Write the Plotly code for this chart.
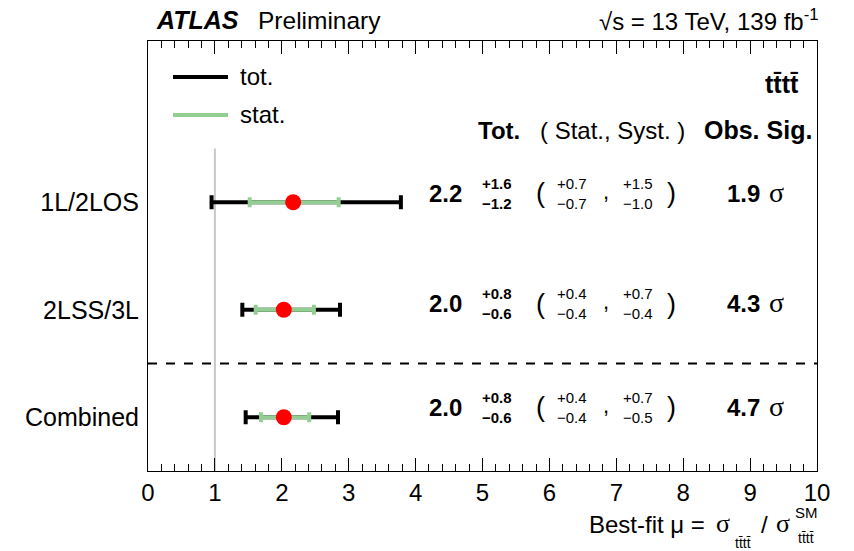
import plotly.graph_objects as go

# ---------------- data ----------------
channels = ["1L/2LOS", "2LSS/3L", "Combined"]
y_pos = [2.5, 1.5, 0.5]
mu = [2.17, 2.03, 2.03]
tot_up = [1.61, 0.84, 0.81]
tot_dn = [1.22, 0.62, 0.57]
stat_up = [0.68, 0.45, 0.38]
stat_dn = [0.65, 0.42, 0.34]

mu_txt = ["2.2", "2.0", "2.0"]
tot_up_txt = ["+1.6", "+0.8", "+0.8"]
tot_dn_txt = ["\u22121.2", "\u22120.6", "\u22120.6"]
stat_up_txt = ["+0.7", "+0.4", "+0.4"]
stat_dn_txt = ["\u22120.7", "\u22120.4", "\u22120.4"]
syst_up_txt = ["+1.5", "+0.7", "+0.7"]
syst_dn_txt = ["\u22121.0", "\u22120.4", "\u22120.5"]
sig_txt = ["1.9", "4.3", "4.7"]

x_ticks = list(range(0, 11))

FONT = "Liberation Sans, Arial, Helvetica, sans-serif"
SERIF = "Liberation Serif, Times New Roman, serif"
GREEN = "#93cf93"
TTTT = "t" + "t\u0304" + "t" + "t\u0304"

W, H = 854, 551
L, R, T, B = 148, 37, 41, 80
PW, PH = W - L - R, H - T - B


def px2x(px):
    return (px - L) / PW


def px2y(py):
    return (H - B - py) / PH


fig = go.Figure()

# total uncertainty
fig.add_trace(go.Scatter(
    x=mu, y=y_pos, mode="markers",
    marker=dict(size=1, color="rgba(0,0,0,0)"),
    error_x=dict(type="data", symmetric=False, array=tot_up, arrayminus=tot_dn,
                 color="black", thickness=4, width=7),
    showlegend=False, hoverinfo="skip"))
# stat uncertainty
fig.add_trace(go.Scatter(
    x=mu, y=y_pos, mode="markers",
    marker=dict(size=1, color="rgba(0,0,0,0)"),
    error_x=dict(type="data", symmetric=False, array=stat_up, arrayminus=stat_dn,
                 color=GREEN, thickness=4, width=5),
    showlegend=False, hoverinfo="skip"))
# central value
fig.add_trace(go.Scatter(
    x=mu, y=y_pos, mode="markers",
    marker=dict(size=16, color="red"),
    showlegend=False))

shapes = [
    # SM reference line
    dict(type="line", xref="x", yref="y", x0=1, x1=1, y0=0, y1=3,
         line=dict(color="#c8c8c8", width=2), layer="below"),
    # separator
    dict(type="line", xref="paper", yref="y", x0=0, x1=1, y0=1, y1=1,
         line=dict(color="black", width=2, dash="dash")),
    # legend lines
    dict(type="line", xref="paper", yref="paper", x0=px2x(173), x1=px2x(228),
         y0=px2y(77), y1=px2y(77), line=dict(color="black", width=4)),
    dict(type="line", xref="paper", yref="paper", x0=px2x(173), x1=px2x(228),
         y0=px2y(115), y1=px2y(115), line=dict(color=GREEN, width=4)),
]

ann = []


def txt(text, x, y, size, xanchor="center", yanchor="middle", xref="x", yref="y",
        yshift=0, bold=False, italic=False, family=FONT):
    if bold:
        text = "<b>" + text + "</b>"
    if italic:
        text = "<i>" + text + "</i>"
    ann.append(dict(text=text, x=x, y=y, xref=xref, yref=yref, showarrow=False,
                    xanchor=xanchor, yanchor=yanchor, yshift=yshift,
                    font=dict(size=size, color="black", family=family)))


# legend text
txt("tot.", px2x(238), px2y(76), 24, xanchor="left", xref="paper", yref="paper")
txt("stat.", px2x(238), px2y(114), 24, xanchor="left", xref="paper", yref="paper")

# headers
txt(TTTT, px2x(801), px2y(84), 25, xanchor="right", xref="paper", yref="paper", bold=True)
txt("Tot.", px2x(499), px2y(130), 24, xref="paper", yref="paper", bold=True)
txt("( Stat., Syst. )", px2x(612), px2y(130), 24, xref="paper", yref="paper")
txt("Obs. Sig.", px2x(758), px2y(130), 25, xref="paper", yref="paper", bold=True)

# row texts
shifts = [9, 6, 10]
for i in range(3):
    yy = y_pos[i]
    s = shifts[i]
    txt(mu_txt[i], 4.45, yy, 24, yshift=s, bold=True)
    txt(tot_up_txt[i], 5.22, yy, 15, yshift=s + 10, bold=True)
    txt(tot_dn_txt[i], 5.22, yy, 15, yshift=s - 10, bold=True)
    txt("(", 5.87, yy, 27, yshift=s)
    txt(stat_up_txt[i], 6.34, yy, 15, yshift=s + 10)
    txt(stat_dn_txt[i], 6.34, yy, 15, yshift=s - 10)
    txt(",", 6.85, yy, 22, yshift=s + 2)
    txt(syst_up_txt[i], 7.33, yy, 15, yshift=s + 10)
    txt(syst_dn_txt[i], 7.33, yy, 15, yshift=s - 10)
    txt(")", 7.83, yy, 27, yshift=s)
    txt(sig_txt[i], 8.90, yy, 24, yshift=s, bold=True)
    txt("\u03c3", 9.40, yy, 28, yshift=s + 1, family=SERIF)

# top labels
txt("ATLAS", px2x(154), px2y(20), 25, xanchor="left", xref="paper", yref="paper",
    bold=True, italic=True)
txt("Preliminary", px2x(256), px2y(20), 24.5, xanchor="left", xref="paper", yref="paper")
txt("\u221As = 13 TeV, 139 fb<sup>-1</sup>", px2x(821), px2y(20), 24, xanchor="right",
    xref="paper", yref="paper")

# x-axis title pieces
txt("Best-fit \u03bc = ", px2x(714), px2y(524), 24, xanchor="right",
    xref="paper", yref="paper")
txt("\u03c3", px2x(714), px2y(523), 26, xanchor="left", xref="paper", yref="paper",
    family=SERIF)
txt(TTTT, px2x(743), px2y(543), 14, xref="paper", yref="paper")
txt("/", px2x(764), px2y(524), 24, xref="paper", yref="paper")
txt("\u03c3", px2x(774), px2y(523), 26, xanchor="left", xref="paper", yref="paper",
    family=SERIF)
txt("SM", px2x(806), px2y(512), 15, xref="paper", yref="paper")
txt(TTTT, px2x(806), px2y(538), 14, xref="paper", yref="paper")

fig.update_layout(
    width=W, height=H,
    margin=dict(l=L, r=R, t=T, b=B, pad=0),
    paper_bgcolor="white", plot_bgcolor="white",
    font=dict(family=FONT, color="black"),
    shapes=shapes, annotations=ann,
    xaxis=dict(range=[0, 10], tickvals=x_ticks, ticktext=[str(v) for v in x_ticks],
               ticks="inside", ticklen=13, tickwidth=1, tickcolor="black",
               minor=dict(dtick=0.2, ticks="inside", ticklen=7, tickcolor="black",
                          tickwidth=1, showgrid=False),
               showline=True, linecolor="black", linewidth=1, mirror="ticks",
               showgrid=False, zeroline=False, tickfont=dict(size=24, family=FONT)),
    yaxis=dict(range=[0, 4], tickvals=y_pos, ticktext=channels,
               ticks="outside", ticklen=3, tickcolor="rgba(0,0,0,0)",
               showline=True, linecolor="black", linewidth=1, mirror=True,
               showgrid=False, zeroline=False, tickfont=dict(size=25, family=FONT)),
)

fig.write_html("out.html")
